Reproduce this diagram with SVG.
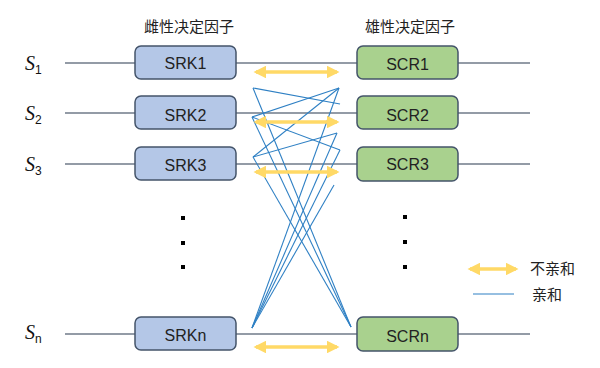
<svg xmlns="http://www.w3.org/2000/svg" width="600" height="368" viewBox="0 0 600 368">
<defs>
<style>
.row{stroke:#6f7a88;stroke-width:1.3;fill:none}
.srk{fill:#b4c7e7;stroke:#44546a;stroke-width:1.5}
.scr{fill:#a9d18e;stroke:#44546a;stroke-width:1.5}
.lbl{font-family:"Liberation Sans",Arial,sans-serif;font-size:16px;fill:#222;text-anchor:middle;dominant-baseline:central}
.cjk{font-family:"Noto Sans CJK SC","Liberation Sans",sans-serif;font-size:15px;fill:#222}
.s{font-family:"Liberation Serif","Times New Roman",serif;font-style:italic;font-size:20px;fill:#111}
.sub{font-family:"Liberation Sans",Arial,sans-serif;font-size:12px;fill:#111}
.blue{stroke:#2f80c4;stroke-width:1.1;fill:none}
.yel{stroke:#ffd966;stroke-width:3.5;fill:none}
.dot{fill:#000}
</style>
<marker id="ah" viewBox="0 0 10 10" refX="8" refY="5" markerWidth="3.6" markerHeight="3.6" orient="auto-start-reverse" markerUnits="strokeWidth">
<path d="M0,0 L10,5 L0,10 Z" fill="#ffd966"/>
</marker>
</defs>
<rect width="600" height="368" fill="#fff"/>

<g id="rows">
<line class="row" x1="65" y1="63" x2="530" y2="63"/>
<line class="row" x1="65" y1="113" x2="530" y2="113"/>
<line class="row" x1="65" y1="164" x2="530" y2="164" stroke="#8a8f96"/>
<line class="row" x1="65" y1="334" x2="530" y2="334" stroke="#9a9ea4"/>
</g>

<g id="titles">
<text class="cjk" x="189" y="32" text-anchor="middle">雌性决定因子</text>
<text class="cjk" x="410" y="32" text-anchor="middle">雄性决定因子</text>
</g>

<g id="slabels">
<text class="s" x="25" y="70">S<tspan class="sub" font-style="normal" dy="4">1</tspan></text>
<text class="s" x="25" y="120">S<tspan class="sub" font-style="normal" dy="4">2</tspan></text>
<text class="s" x="25" y="171">S<tspan class="sub" font-style="normal" dy="4">3</tspan></text>
<text class="s" x="25" y="339">S<tspan class="sub" font-style="normal" dy="4">n</tspan></text>
</g>

<g id="connectors">
<line class="blue" x1="253" y1="88" x2="340" y2="104"/>
<line class="blue" x1="253" y1="88" x2="351" y2="327"/>
<line class="blue" x1="252" y1="117" x2="339" y2="88"/>
<line class="blue" x1="252" y1="117" x2="340" y2="150"/>
<line class="blue" x1="252" y1="117" x2="351" y2="327"/>
<line class="blue" x1="253" y1="157" x2="339" y2="88"/>
<line class="blue" x1="253" y1="157" x2="337" y2="133"/>
<line class="blue" x1="253" y1="157" x2="351" y2="327"/>
<line class="blue" x1="252" y1="328" x2="339" y2="88"/>
<line class="blue" x1="252" y1="328" x2="337" y2="133"/>
<line class="blue" x1="252" y1="328" x2="340" y2="150"/>
<line class="blue" x1="252" y1="328" x2="334" y2="185"/>
<line class="yel" x1="256" y1="72" x2="337" y2="72" marker-start="url(#ah)" marker-end="url(#ah)"/>
<line class="yel" x1="256" y1="122" x2="337" y2="122" marker-start="url(#ah)" marker-end="url(#ah)"/>
<line class="yel" x1="256" y1="172" x2="337" y2="172" marker-start="url(#ah)" marker-end="url(#ah)"/>
<line class="yel" x1="256" y1="347" x2="337" y2="347" marker-start="url(#ah)" marker-end="url(#ah)"/>
</g>

<g id="SRK1"><rect class="srk" x="135" y="46" width="101" height="33" rx="6"/><text class="lbl" x="185.5" y="63">SRK1</text></g>
<g id="SRK2"><rect class="srk" x="135" y="96" width="101" height="33" rx="6"/><text class="lbl" x="185.5" y="115">SRK2</text></g>
<g id="SRK3"><rect class="srk" x="135" y="147" width="101" height="33" rx="6"/><text class="lbl" x="185.5" y="165">SRK3</text></g>
<g id="SRKn"><rect class="srk" x="135" y="317" width="101" height="33" rx="6"/><text class="lbl" x="185.5" y="335">SRKn</text></g>

<g id="SCR1"><rect class="scr" x="357" y="46" width="101" height="33" rx="6"/><text class="lbl" x="407.5" y="64">SCR1</text></g>
<g id="SCR2"><rect class="scr" x="357" y="96" width="101" height="33" rx="6"/><text class="lbl" x="407.5" y="115">SCR2</text></g>
<g id="SCR3"><rect class="scr" x="357" y="147" width="101" height="34" rx="6"/><text class="lbl" x="407.5" y="164">SCR3</text></g>
<g id="SCRn"><rect class="scr" x="357" y="317" width="101" height="34" rx="6"/><text class="lbl" x="407.5" y="336">SCRn</text></g>

<g id="dots">
<rect class="dot" x="181" y="216" width="4" height="4"/>
<rect class="dot" x="181" y="241" width="4" height="4"/>
<rect class="dot" x="181" y="265" width="4" height="4"/>
<rect class="dot" x="403" y="215" width="4" height="4"/>
<rect class="dot" x="403" y="240" width="4" height="4"/>
<rect class="dot" x="403" y="265" width="4" height="4"/>
</g>

<g id="legend">
<line class="yel" x1="470" y1="269" x2="516" y2="269" marker-start="url(#ah)" marker-end="url(#ah)"/>
<text class="cjk" x="530" y="274">不亲和</text>
<line class="blue" x1="473" y1="294" x2="514" y2="294"/>
<text class="cjk" x="532" y="300">亲和</text>
</g>
</svg>
